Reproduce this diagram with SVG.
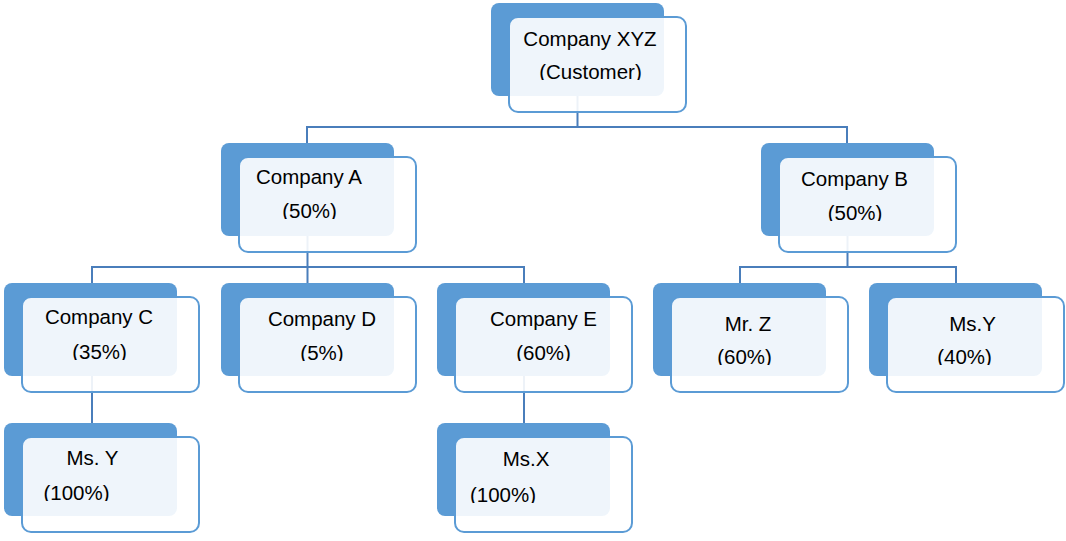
<svg xmlns="http://www.w3.org/2000/svg" width="1066" height="541" viewBox="0 0 1066 541">
<style>
.back{fill:#5b9bd5;}
.front{fill:#ffffff;fill-opacity:0.9;stroke:#5b9bd5;stroke-width:2;}
.conn{fill:none;stroke:#4a7ebb;stroke-width:2;}
text{font-family:"Liberation Sans",Arial,sans-serif;font-size:20.5px;fill:#000;text-anchor:middle;}
</style>
<defs>
<clipPath id="c0"><rect x="500" y="0" width="200" height="80"/></clipPath>
<clipPath id="cA"><rect x="230" y="140" width="200" height="79"/></clipPath>
<clipPath id="cB"><rect x="770" y="140" width="200" height="81"/></clipPath>
<clipPath id="cC"><rect x="10" y="280" width="200" height="80"/></clipPath>
<clipPath id="cD"><rect x="230" y="280" width="200" height="81"/></clipPath>
<clipPath id="cE"><rect x="440" y="280" width="200" height="81"/></clipPath>
<clipPath id="cZ"><rect x="660" y="280" width="200" height="85"/></clipPath>
<clipPath id="cY2"><rect x="880" y="280" width="186" height="85"/></clipPath>
<clipPath id="cY"><rect x="10" y="420" width="200" height="81"/></clipPath>
<clipPath id="cX"><rect x="440" y="420" width="200" height="83"/></clipPath>
</defs>
<g id="connectors">
<path class="conn" d="M307 143 V127 H847 V143 M577.5 96 V127"/>
<path class="conn" d="M92 283 V267 H524 V283 M307.5 236 V283"/>
<path class="conn" d="M740 283 V267 H956 V283 M847.5 236 V267"/>
<path class="conn" d="M92 376 V423"/>
<path class="conn" d="M524 376 V423"/>
</g>
<g id="node-xyz">
<rect class="back" x="491" y="3" width="173" height="93" rx="8"/>
<rect class="front" x="509" y="17" width="177" height="95" rx="9"/>
<text x="590" y="46">Company XYZ</text>
<text x="590.5" y="79" clip-path="url(#c0)">(Customer)</text>
</g>
<g id="node-a">
<rect class="back" x="221" y="143" width="173" height="93" rx="8"/>
<rect class="front" x="239" y="157" width="177" height="95" rx="9"/>
<text x="309" y="184">Company A</text>
<text x="309.5" y="218" clip-path="url(#cA)">(50%)</text>
</g>
<g id="node-b">
<rect class="back" x="761" y="143" width="173" height="93" rx="8"/>
<rect class="front" x="779" y="157" width="177" height="95" rx="9"/>
<text x="854.5" y="186">Company B</text>
<text x="855" y="220" clip-path="url(#cB)">(50%)</text>
</g>
<g id="node-c">
<rect class="back" x="4" y="283" width="173" height="93" rx="8"/>
<rect class="front" x="22" y="297" width="177" height="95" rx="9"/>
<text x="99" y="324">Company C</text>
<text x="99.5" y="359" clip-path="url(#cC)">(35%)</text>
</g>
<g id="node-d">
<rect class="back" x="221" y="283" width="173" height="93" rx="8"/>
<rect class="front" x="239" y="297" width="177" height="95" rx="9"/>
<text x="322" y="326">Company D</text>
<text x="322" y="360" clip-path="url(#cD)">(5%)</text>
</g>
<g id="node-e">
<rect class="back" x="437" y="283" width="173" height="93" rx="8"/>
<rect class="front" x="455" y="297" width="177" height="95" rx="9"/>
<text x="543.5" y="326">Company E</text>
<text x="543.5" y="360" clip-path="url(#cE)">(60%)</text>
</g>
<g id="node-mrz">
<rect class="back" x="653" y="283" width="173" height="93" rx="8"/>
<rect class="front" x="671" y="297" width="177" height="95" rx="9"/>
<text x="748" y="331">Mr. Z</text>
<text x="744.5" y="364" clip-path="url(#cZ)">(60%)</text>
</g>
<g id="node-msy-b">
<rect class="back" x="869" y="283" width="173" height="93" rx="8"/>
<rect class="front" x="887" y="297" width="177" height="95" rx="9"/>
<text x="972.5" y="331">Ms.Y</text>
<text x="964.5" y="364" clip-path="url(#cY2)">(40%)</text>
</g>
<g id="node-msy-c">
<rect class="back" x="4" y="423" width="173" height="93" rx="8"/>
<rect class="front" x="22" y="437" width="177" height="95" rx="9"/>
<text x="92.5" y="465">Ms. Y</text>
<text x="76.5" y="500" clip-path="url(#cY)">(100%)</text>
</g>
<g id="node-msx">
<rect class="back" x="437" y="423" width="173" height="93" rx="8"/>
<rect class="front" x="455" y="437" width="177" height="95" rx="9"/>
<text x="526" y="466">Ms.X</text>
<text x="503" y="502" clip-path="url(#cX)">(100%)</text>
</g>
</svg>
